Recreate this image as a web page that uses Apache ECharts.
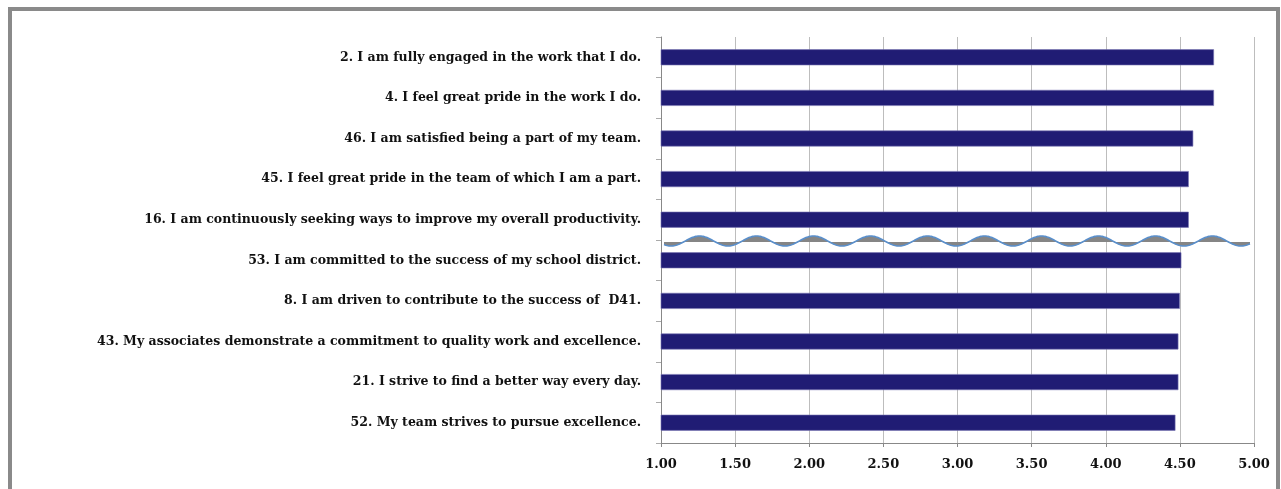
<!DOCTYPE html>
<html>
<head>
<meta charset="utf-8">
<script src="https://cdn.jsdelivr.net/npm/echarts@6/dist/echarts.min.js"></script>
<style>
  html, body { margin: 0; padding: 0; background: #fff; overflow: hidden; }
  #frame { position: absolute; left: 8px; top: 7px; width: 1264px; height: 500px; border: 4px solid #8a8a8a; }
  #chart { position: absolute; left: 0; top: 0; width: 1281px; height: 489px; }
</style>
</head>
<body>
<div id="frame"></div>
<div id="chart"></div>
<script>
// survey items, top to bottom
var items = [
    '2. I am fully engaged in the work that I do.',
    '4. I feel great pride in the work I do.',
    '46. I am satisfied being a part of my team.',
    '45. I feel great pride in the team of which I am a part.',
    '16. I am continuously seeking ways to improve my overall productivity.',
    '53. I am committed to the success of my school district.',
    '8. I am driven to contribute to the success of  D41.',
    '43. My associates demonstrate a commitment to quality work and excellence.',
    '21. I strive to find a better way every day.',
    '52. My team strives to pursue excellence.'
];
var scores = [4.73, 4.73, 4.59, 4.56, 4.56, 4.51, 4.50, 4.49, 4.49, 4.47];
var axisMin = 1;
var axisMax = 5;
var axisStep = 0.5;
// the wavy "break" line sits between these two items
var breakAfter = 4;

var font = '"DejaVu Serif", serif';

var myChart = echarts.init(document.getElementById('chart'));
myChart.setOption({
    animation: false,
    grid: { left: 661, right: 27, top: 37, bottom: 46 },
    xAxis: {
        type: 'value',
        min: axisMin,
        max: axisMax,
        interval: axisStep,
        axisLine: { show: true, lineStyle: { color: '#888', width: 1 } },
        axisTick: { show: true, length: 4, lineStyle: { color: '#888' } },
        axisLabel: {
            margin: 15,
            color: '#111',
            fontFamily: font,
            fontWeight: 'bold',
            fontSize: 13,
            formatter: function (v) { return v.toFixed(2); }
        },
        splitLine: { show: true, lineStyle: { color: '#bdbdbd', width: 1 } }
    },
    yAxis: {
        type: 'category',
        inverse: true,
        data: items,
        axisLine: { show: true, lineStyle: { color: '#888', width: 1 } },
        axisTick: { show: true, length: 5, lineStyle: { color: '#aaa' } },
        axisLabel: {
            margin: 20,
            color: '#111',
            fontFamily: font,
            fontWeight: 'bold',
            fontSize: 12.5
        }
    },
    series: [{
        type: 'bar',
        data: scores,
        barWidth: 16,
        itemStyle: { color: '#201c74', borderColor: '#7876b4', borderWidth: 0.6 }
    }]
});

function drawBreak() {
    var c1 = myChart.convertToPixel({ yAxisIndex: 0 }, breakAfter);
    var c2 = myChart.convertToPixel({ yAxisIndex: 0 }, breakAfter + 1);
    var yMid = (c1 + c2) / 2;
    var x0 = myChart.convertToPixel({ xAxisIndex: 0 }, axisMin) + 3;
    var x1 = myChart.convertToPixel({ xAxisIndex: 0 }, axisMax) - 4;
    var period = 57, amp = 5;
    var wave = [];
    for (var x = x0; x <= x1; x += 1) {
        wave.push([x, yMid + 1 + amp * Math.cos((x - 671) * 2 * Math.PI / period)]);
    }
    var fill = wave.concat([[x1, yMid + 2], [x0, yMid + 2]]);
    myChart.setOption({
        graphic: [
            { type: 'polygon', shape: { points: fill }, style: { fill: '#858585' }, z: 10 },
            { type: 'polyline', shape: { points: wave }, style: { stroke: '#5a8fcb', lineWidth: 1.6, fill: null }, z: 11 }
        ]
    });
}
drawBreak();
</script>
</body>
</html>
